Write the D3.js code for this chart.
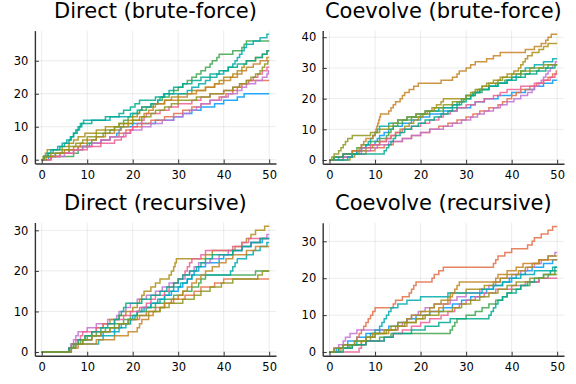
<!DOCTYPE html>
<html><head><meta charset="utf-8">
<script src="https://cdn.jsdelivr.net/npm/d3@7"></script>
<style>
body{margin:0;background:#fff}
svg{display:block}
text{font-family:"DejaVu Sans",sans-serif;fill:#000}
</style>
</head><body>
<svg id="chart" width="576" height="384"></svg>
<script>
// ---------- data ----------
const panelTitles = ["Direct (brute-force)", "Coevolve (brute-force)", "Direct (recursive)", "Coevolve (recursive)"];
const xTicks = [0, 10, 20, 30, 40, 50];
const tEnd = 50;
const yTicksDirectBrute = [0, 10, 20, 30];
const yTicksCoevolveBrute = [0, 10, 20, 30, 40];
const yTicksDirectRec = [0, 10, 20, 30];
const yTicksCoevolveRec = [0, 10, 20, 30];

// jump times of each trajectory (count rises by 1 at each time)
const directBrute = [
  [1.5,3,6,8,10.5,13,15,16.5,17,17.3,20,25,29,31,33,35,38,40,43,44.5],
  [2,4,6,8,11,13,15,17,18.5,20,22,24,27,29,31,33,35,37,39,40.5,42,43,44,45.5],
  [0.5,7,8,9,10,11,12,13.5,15,16,17,18,19,20,21.5,23,24.5,25.5,26.5,28,29,30,31,32,33,34,35,36,37,37.5,38.5,39,42,44,44.5,45],
  [2,5,7,9,11,13,15,18,19.5,22,24,26.5,29,31,32.5,34,35,37,39.5,41,43,44,45,47,48.5,49.5,49.8],
  [0.3,0.8,1.2,4.5,6,7,8,9.5,12,14,17,19,20,21,21.5,22,24,27,28.5,30,33,36,38,39,40,42,43,44,44.5,45,47,48.5,49.5],
  [0.5,1.2,2,3.5,4.5,5.5,6.3,7,7.8,8.3,8.8,9.2,15,19.5,21,22,24,25.5,26,26.8,32,33,34.5,36,37,38.5,40,41,42,42.5,43,43.5,44,44.5,45,46.5,48,49.5],
  [2,4,7,10,13,16,17.5,18.5,19.5,20,21,22,22.5,23,26,28,30,33,35,37,40,42,43.5,45,46.5,47.5,48.5,49.5],
  [1,3,5,7,8.5,10,12,14,16,17.5,19,20,21.5,22.5,23.5,24.5,25,27,30,32,34,36,38,40,41.5,43,44,45,46.5,48,49.5],
  [0.5,1.5,2.5,4,5,6,6.5,7,7.5,8,8.5,11,14,17,18,19.5,20.5,21.5,25,27,28,29,31,33,35,37,39,41,43,45,47,48.5,49.5],
  [0.5,2,4.5,6,7.5,9,10,12,14,16,18,20,22,24,25,27,28.5,30,34,37,40,42,43.5,45,46,47,48,48.5,49,49.7]
];
const coevolveBrute = [
  [2,5,6,7,8,10,10.5,11,12,13,14,16,18,20,22,25,28,31,32,34,37,40,43,45,47,49],
  [3,5,8,10,12,14,16,18,20,22,24,26,28,30,31.5,33,35,37,38,39,40,41,42,44,45.5,47,48,49,49.8],
  [1,3,5,6,7,9,11,12.5,13,13.5,14,15,16,18,20,22,25,27,28.5,29.5,31,32,33.5,35,36.5,38.5,40,42,44,46,48],
  [3,5,7,9,10.5,13,16,18,20,22,25,27,29,31,32.5,34,36,37.5,39,40.5,42,43.5,44.5,45,46,46.5,47,47.5,48,48.5,49,49.6],
  [4.5,5.5,6.5,8,9.5,11,12.5,13.5,14.5,15.5,16.5,17.5,18.5,19.5,20.5,21.5,22.5,23.5,24.5,25,30,31.5,32.5,33.5,34.5,36,37.5,39,40.5,41.5,42,42.5,43,43.5,44.5,46,47,48],
  [4,5,6,7,8,8.5,9,9.5,10,10.5,11,13,15,17,19,21,24,27,28,29,30,31.5,33,35,37,39,40,41,42,43,45,47,49],
  [1,3,5,7,9,11,12.5,13.5,14.5,16,18,20,22,24,25,26.5,28,30,32,34,36,37.5,39,42,45,47,48.5,49.5],
  [1,3,5,6.5,7,7.5,8,9.5,10,10.2,10.4,10.6,10.8,11,11.2,13,13.5,14,14.5,15.5,16,16.5,17.5,18.5,19.5,24.5,27,28,28.5,30,31,32,34.5,36,37.5,43,45,46.5,47.5,48,48.7],
  [1,3,12,12.5,13,13.5,14,14.5,15.5,16.5,18,19.5,21,23,24.5,26,27,28,29,30,31,32,33,35,37,39,41,43,45.5,47.5,49.5],
  [0.5,1,2,2.5,3,3.5,4,5,9,11,13,14,15,17,19,21,23,25,27,29,30,31,32,33.5,35,37,38,40,42,44,47]
];
const directRecursive = [
  [6.5,7.5,9,11,13.5,16,17.5,19,20,21,22.5,24,26,27,28.5,30,31,32,33,33.5,34.5,36,39,40,42,44,46,48.5],
  [6,7.5,9,11,13,15,17,19.5,21.5,23,25,27,29,31.5,33.5,35,38,40],
  [6,7,8.5,10,12,14,16,18,19.5,21,23,25,27,29,31,33,34.5,35,36,47],
  [6,6.5,7,7.5,8,10,12,14.5,16.5,17,18.5,19.5,21,23,25,26.5,28,30,31.5,32.5,33.5,34.5,37,39,41,44,46,48,49.5],
  [6,7,8,9.5,11,12,13.5,15,17,18.5,20,21,21.5,22,22.5,24,25,26,28,28.5,29,29.3,29.6,36,37.5,42.5,44,45,46,47,49],
  [6,6.5,12.5,13.5,16,17,18.5,19.5,20.5,21,22,24,25.5,27,28,29,30.5,32,33,41.5,42,42.5,43,45,46.5,48,49.5],
  [6,6.5,7.5,8.5,9,12,13.5,16,18,19.5,21.5,23,24,25,27,28,29,30,31,31.5,32,32.5,33,35,36,42,44,45.5],
  [6.5,8,12,16,19,21,21.5,22,23.5,24.5,26,27,28.5,30,31,32,33,34,35,36,37.5,39,40.5,42,45,47],
  [6,7,8,9.5,11,13,14.5,16,17,17.5,18,18.5,22,24,26,27.5,29,30,31,32.5,34,35,36,37.5,42,44,46,48],
  [6.5,7,9,11,13,15,17,19,21,23.5,26,28,31,33.5,35,37,39.5,42,47.5,48.5]
];
const coevolveRecursive = [
  [1.5,3,4,6,8,11,13,15,17,19,22,25,27,29,31,33,34.5,36,38,40,41,43,44.5,47,49],
  [1,3,5.5,6,6.5,7,7.5,8,8.5,9,9.5,10,14,14.5,16,17.5,18,18.5,19,22.5,23,24,25,36,36.5,37,38.5,40,43.5,44.5,45,46.5,48,49],
  [2,4.5,8,11,13.5,26.5,27,27.5,28,30,32,33.5,35,36.5,38,39,40,42,44,46,48,49.5],
  [1,2,3,3.5,4.5,6,15,16,17,18,19.5,21,23,26.5,28,30,33,35,36.5,37.5,40,42,43.5,45,46.5,48,49.5],
  [2,4,7,9,10,12,13.5,15,17,18,20,22,23,24.5,26,26.5,30,34,36,37.5,39,41.5,43,44.5,46,48],
  [2,4,6,8,9,10,11,11.5,12,12.5,13,13.5,15,17,20,26,33.5,36,38,39.5,42,45,49],
  [6.5,7,8,12,14,16,18,20,22,24.5,26,27.5,28.5,30,32,34,36.5,40,43,46],
  [2.5,5,7,8,9.5,13,15,17,19,20.5,22,24,25,26,26.5,27,27.5,28,28.5,36.5,37,39,41,42.5,46],
  [3,5,8,12,14,18,21,24,26.5,35,35.5,36,36.5,37,38,39,41,42,43.5,45,47,48.5,49.5],
  [1,3,5.5,8,10,12.5,14.5,16.5,19,21,24,27,29,31,33,35,37,39,41,44,47]
];

// ---------- style ----------
const palette = ["#009AFA","#E36F47","#3EA44E","#C371D2","#AC8E18","#00AAAE","#ED5E93","#C68225","#00A98D","#8E971D"];

const panels = [
  {title: panelTitles[0], series: directBrute, yTicks: yTicksDirectBrute, x0: 34.9, x1: 276, y0: 30.6, y1: 163.5, ty: 17.5},
  {title: panelTitles[1], series: coevolveBrute, yTicks: yTicksCoevolveBrute, x0: 322.7, x1: 564, y0: 30.4, y1: 163.8, ty: 17.5},
  {title: panelTitles[2], series: directRecursive, yTicks: yTicksDirectRec, x0: 34.9, x1: 276, y0: 222.5, y1: 355.8, ty: 209.5},
  {title: panelTitles[3], series: coevolveRecursive, yTicks: yTicksCoevolveRec, x0: 322.7, x1: 564, y0: 222.8, y1: 355.8, ty: 209.5}
];

const svg = d3.select("#chart");

panels.forEach(p => {
  const yMax = d3.max(p.series, s => s.length);
  const x = d3.scaleLinear().domain([-0.03 * tEnd, 1.03 * tEnd]).range([p.x0, p.x1]);
  const y = d3.scaleLinear().domain([-0.03 * yMax, 1.03 * yMax]).range([p.y1, p.y0]);
  const g = svg.append("g");

  // grid
  g.append("g").selectAll("line").data(xTicks).join("line")
    .attr("x1", d => x(d)).attr("x2", d => x(d)).attr("y1", p.y0).attr("y2", p.y1)
    .attr("stroke", "#000").attr("stroke-opacity", 0.08).attr("stroke-width", 1);
  g.append("g").selectAll("line").data(p.yTicks).join("line")
    .attr("y1", d => y(d)).attr("y2", d => y(d)).attr("x1", p.x0).attr("x2", p.x1)
    .attr("stroke", "#000").attr("stroke-opacity", 0.08).attr("stroke-width", 1);

  // lines
  const line = d3.line().x(d => x(d[0])).y(d => y(d[1])).curve(d3.curveStepAfter);
  p.series.forEach((jumps, i) => {
    const pts = [[0, 0]].concat(jumps.map((t, k) => [t, k + 1]));
    pts.push([tEnd, jumps.length]);
    g.append("path").datum(pts).attr("d", line)
      .attr("fill", "none").attr("stroke", palette[i])
      .attr("stroke-width", 1.5).attr("stroke-opacity", 0.85);
  });

  // axes
  const xa = g.append("g").attr("transform", `translate(0,${p.y1})`)
    .call(d3.axisBottom(x).tickValues(xTicks).tickSizeInner(-4).tickSizeOuter(0).tickPadding(7));
  const ya = g.append("g").attr("transform", `translate(${p.x0},0)`)
    .call(d3.axisLeft(y).tickValues(p.yTicks).tickSizeInner(-4).tickSizeOuter(0).tickPadding(6.5));
  [xa, ya].forEach(a => {
    a.select(".domain").attr("stroke", "#333").attr("stroke-width", 1.4);
    a.selectAll(".tick line").attr("stroke", "#333").attr("stroke-width", 1);
    a.selectAll(".tick text").attr("font-size", 11.5).attr("font-family", "DejaVu Sans").attr("fill", "#000");
  });

  // title
  g.append("text").attr("x", (p.x0 + p.x1) / 2).attr("y", p.ty)
    .attr("text-anchor", "middle").attr("font-size", 21).text(p.title);
});
</script>
</body></html>
